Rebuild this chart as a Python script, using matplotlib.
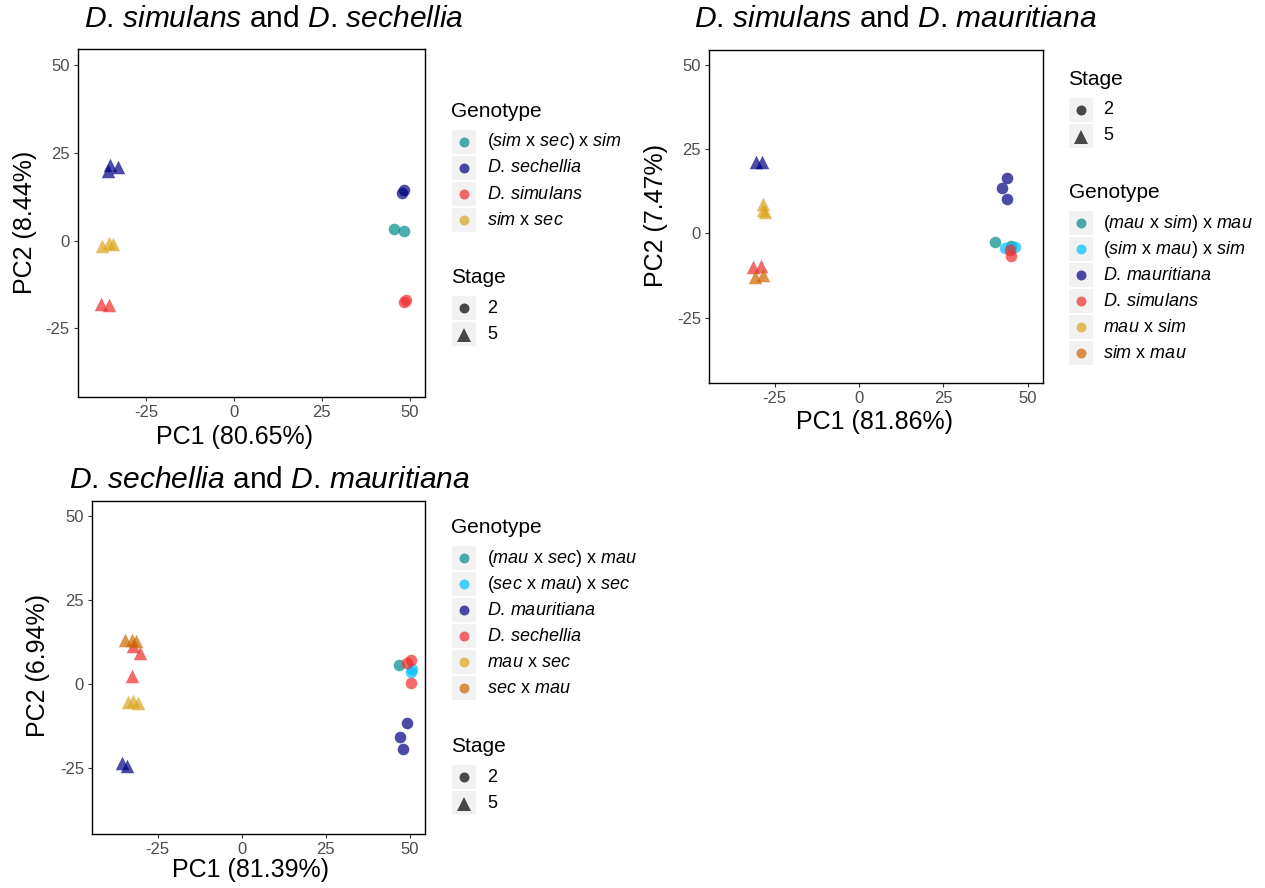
import matplotlib
matplotlib.use("Agg")
import matplotlib.pyplot as plt
from matplotlib.patches import Rectangle

plt.rcParams['font.family'] = ['Liberation Sans', 'DejaVu Sans']
plt.rcParams['mathtext.fontset'] = 'custom'
plt.rcParams['mathtext.rm'] = 'Liberation Sans'
plt.rcParams['mathtext.it'] = 'Liberation Sans:italic'

# --- D. simulans / D. sechellia ---
p1_title = r"$\mathit{D}$. $\mathit{simulans}$ and $\mathit{D}$. $\mathit{sechellia}$"
p1_xlabel = "PC1 (80.65%)"
p1_ylabel = "PC2 (8.44%)"
p1_genotypes = [r"($\mathit{sim}$ x $\mathit{sec}$) x $\mathit{sim}$",
                r"$\mathit{D}$. $\mathit{sechellia}$",
                r"$\mathit{D}$. $\mathit{simulans}$",
                r"$\mathit{sim}$ x $\mathit{sec}$"]
p1_pc1 = [45.6, 48.3, 48.3, 47.8, 48.3, 49.0,
          -35.3, -33.1, -35.9, -37.9, -35.6, -37.6, -35.6, -34.4]
p1_pc2 = [3.2, 2.7, 14.4, 13.5, -17.4, -16.9,
          21.5, 21.0, 19.8, -18.1, -18.3, -1.5, -0.6, -1.0]
p1_geno = [0, 0, 1, 1, 2, 2, 1, 1, 1, 2, 2, 3, 3, 3]
p1_stage = [2, 2, 2, 2, 2, 2, 5, 5, 5, 5, 5, 5, 5, 5]

# --- D. simulans / D. mauritiana ---
p2_title = r"$\mathit{D}$. $\mathit{simulans}$ and $\mathit{D}$. $\mathit{mauritiana}$"
p2_xlabel = "PC1 (81.86%)"
p2_ylabel = "PC2 (7.47%)"
p2_genotypes = [r"($\mathit{mau}$ x $\mathit{sim}$) x $\mathit{mau}$",
                r"($\mathit{sim}$ x $\mathit{mau}$) x $\mathit{sim}$",
                r"$\mathit{D}$. $\mathit{mauritiana}$",
                r"$\mathit{D}$. $\mathit{simulans}$",
                r"$\mathit{mau}$ x $\mathit{sim}$",
                r"$\mathit{sim}$ x $\mathit{mau}$"]
p2_pc1 = [40.4, 45.1, 43.4, 46.4, 43.9, 42.4, 44.0, 44.9, 45.1,
          -30.5, -28.9, -31.3, -29.1, -28.5, -28.5, -27.9, -30.8, -28.5]
p2_pc2 = [-2.4, -3.7, -4.4, -4.1, 16.4, 13.4, 10.2, -4.9, -6.6,
          21.2, 21.3, -10.0, -9.7, 8.8, 7.0, 6.4, -12.8, -12.3]
p2_geno = [0, 0, 1, 1, 2, 2, 2, 3, 3, 2, 2, 3, 3, 4, 4, 4, 5, 5]
p2_stage = [2, 2, 2, 2, 2, 2, 2, 2, 2, 5, 5, 5, 5, 5, 5, 5, 5, 5]

# --- D. sechellia / D. mauritiana ---
p3_title = r"$\mathit{D}$. $\mathit{sechellia}$ and $\mathit{D}$. $\mathit{mauritiana}$"
p3_xlabel = "PC1 (81.39%)"
p3_ylabel = "PC2 (6.94%)"
p3_genotypes = [r"($\mathit{mau}$ x $\mathit{sec}$) x $\mathit{mau}$",
                r"($\mathit{sec}$ x $\mathit{mau}$) x $\mathit{sec}$",
                r"$\mathit{D}$. $\mathit{mauritiana}$",
                r"$\mathit{D}$. $\mathit{sechellia}$",
                r"$\mathit{mau}$ x $\mathit{sec}$",
                r"$\mathit{sec}$ x $\mathit{mau}$"]
p3_pc1 = [46.7, 50.2, 50.7, 49.0, 47.2, 48.0, 49.0, 50.2, 50.2,
          -35.7, -34.0, -32.4, -30.2, -32.5, -33.7, -32.2, -30.7, -34.7, -32.7, -31.4]
p3_pc2 = [5.7, 3.7, 4.7, -11.5, -15.8, -19.1, 6.4, 7.2, 0.4,
          -23.4, -24.3, 11.4, 9.2, 2.4, -5.2, -5.0, -5.5, 13.3, 13.3, 12.8]
p3_geno = [0, 1, 1, 2, 2, 2, 3, 3, 3, 2, 2, 3, 3, 3, 4, 4, 4, 5, 5, 5]
p3_stage = [2, 2, 2, 2, 2, 2, 2, 2, 2, 5, 5, 5, 5, 5, 5, 5, 5, 5, 5, 5]

colors4 = ["#008B8B", "#000080", "#EE2C2C", "#DAA520"]
colors6 = ["#008B8B", "#00BFFF", "#000080", "#EE2C2C", "#DAA520", "#CD6600"]
stages = [2, 5]
stage_markers = {2: "o", 5: "^"}
ticks = [-25, 0, 25, 50]
tick_labels = ["-25", "0", "25", "50"]
ALPHA = 0.7

W, H = 1265, 888
fig = plt.figure(figsize=(W / 100, H / 100), dpi=100)


def box(l, t, r, b):
    return [l / W, 1 - b / H, (r - l) / W, (b - t) / H]


# overlay in pixel coordinates for titles, axis titles and legends
ov = fig.add_axes([0, 0, 1, 1], zorder=5)
ov.set_xlim(0, W)
ov.set_ylim(H, 0)
ov.axis("off")
ov.patch.set_visible(False)


def panel(rect, pc1, pc2, geno, stage, colors):
    ax = fig.add_axes(box(*rect))
    for g, c in enumerate(colors):
        for s in stages:
            xs = [x for x, gg, ss in zip(pc1, geno, stage) if gg == g and ss == s]
            ys = [y for y, gg, ss in zip(pc2, geno, stage) if gg == g and ss == s]
            if xs:
                ax.scatter(xs, ys, s=70 if s == 2 else 95, marker=stage_markers[s],
                           color=c, alpha=ALPHA, linewidths=0)
    ax.set_xlim(-44.5, 54.5)
    ax.set_ylim(-44.5, 54.5)
    ax.set_xticks(ticks, tick_labels)
    ax.set_yticks(ticks, tick_labels)
    ax.tick_params(direction="out", length=3.2, width=0.8, color="#333333",
                   labelsize=12, labelcolor="#4D4D4D", pad=2.5)
    for sp in ax.spines.values():
        sp.set_linewidth(1.0)
        sp.set_color("black")
    return ax


def legend(x_key, x_text, y_base, title, labels, colors=None, shapes=None):
    ov.text(x_key - 12, y_base, title, fontsize=15, va="baseline", ha="left")
    for i, lab in enumerate(labels):
        y = y_base + 25 + 26 * i
        ov.add_patch(Rectangle((x_key - 12, y - 12.2), 24, 24.4,
                               facecolor="#F2F2F2", edgecolor="none"))
        if shapes is None:
            ov.plot(x_key, y, "o", ms=7.2, color=colors[i], alpha=ALPHA, mew=0)
        else:
            ov.plot(x_key, y + (1 if shapes[i] == "^" else 0), shapes[i],
                    ms=7.2 if shapes[i] == "o" else 9.5, color="black",
                    alpha=ALPHA, mew=0)
        ov.text(x_text, y, lab, fontsize=13, va="center", ha="left")


stage_labels = [str(s) for s in stages]
stage_shapes = [stage_markers[s] for s in stages]

# panel 1
panel((77.7, 49.3, 425.3, 396.7), p1_pc1, p1_pc2, p1_geno, p1_stage, colors4)
ov.text(84, 27, p1_title, fontsize=21.6, va="baseline", ha="left")
ov.text(234, 437, p1_xlabel, fontsize=18, va="center", ha="center")
ov.text(25, 222, p1_ylabel, fontsize=18, va="center", ha="center", rotation=90)
legend(463.5, 487, 117, "Genotype", p1_genotypes, colors=colors4)
legend(463.5, 487, 283, "Stage", stage_labels, shapes=stage_shapes)

# panel 2
panel((709, 50, 1042.7, 383.3), p2_pc1, p2_pc2, p2_geno, p2_stage, colors6)
ov.text(694, 27, p2_title, fontsize=21.6, va="baseline", ha="left")
ov.text(875, 422, p2_xlabel, fontsize=18, va="center", ha="center")
ov.text(656, 215, p2_ylabel, fontsize=18, va="center", ha="center", rotation=90)
legend(1080.5, 1103, 85, "Stage", stage_labels, shapes=stage_shapes)
legend(1080.5, 1103, 198, "Genotype", p2_genotypes, colors=colors6)

# panel 3
panel((92, 501, 425, 834), p3_pc1, p3_pc2, p3_geno, p3_stage, colors6)
ov.text(69, 488, p3_title, fontsize=21.6, va="baseline", ha="left")
ov.text(250, 870, p3_xlabel, fontsize=18, va="center", ha="center")
ov.text(38, 665, p3_ylabel, fontsize=18, va="center", ha="center", rotation=90)
legend(463.5, 487, 533, "Genotype", p3_genotypes, colors=colors6)
legend(463.5, 487, 752, "Stage", stage_labels, shapes=stage_shapes)

fig.savefig("out.png", dpi=100)
